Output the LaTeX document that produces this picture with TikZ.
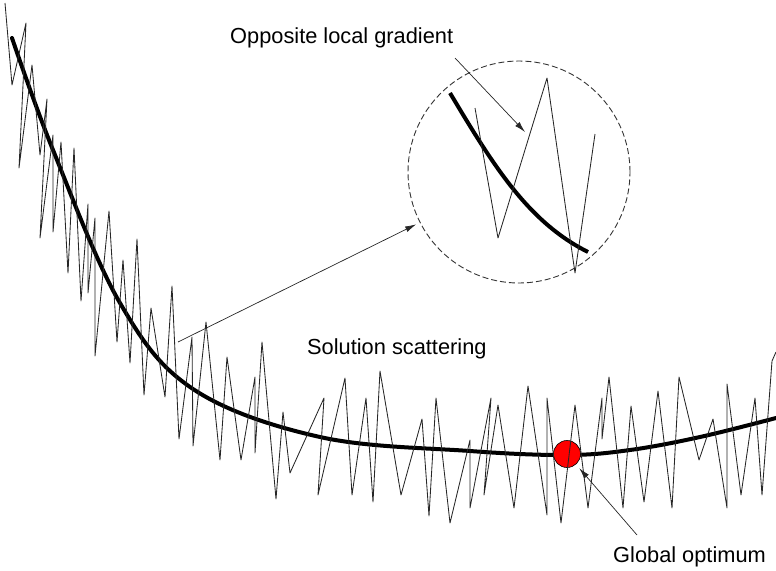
\documentclass[tikz,border=0pt]{standalone}
\usepackage{fontspec}
\setmainfont{Liberation Sans}
\usetikzlibrary{arrows.meta}

\begin{document}
\begin{tikzpicture}[x=1pt,y=-1pt,
  noise/.style={line width=0.85pt,line join=round,black!85},
  trend/.style={line width=4pt,line cap=round},
  pointer/.style={line width=0.7pt,black!85,-{Latex[length=11pt,width=6pt]}},
  tag/.style={font=\fontsize{21.8}{26}\selectfont,inner sep=0pt,anchor=base west}]

\useasboundingbox (0,0) rectangle (776,570);

\draw[trend] plot[smooth,tension=0.6] coordinates {(12,38) (53,150) (120,303)
  (193,389) (320,437) (470,451) (567,455) (630,450) (700,437) (776,418)};

\node[circle,fill=red,draw=black,line width=0.6pt,minimum size=27pt,inner sep=0pt]
  (optimum) at (567,454) {};

\draw[noise] plot coordinates {(5,3) (12,85) (26,23) (19,168) (32,65) (40,155)
  (47,99) (40,238) (53,135) (53,232) (61,142) (68,273) (74,148) (81,301)
  (88,204) (88,293) (95,218) (95,356) (109,211) (117,342) (123,260) (130,363)
  (137,239) (144,395) (151,308) (165,397) (172,286) (179,439) (192,337)
  (193,446) (206,322) (220,460) (227,357) (241,460) (255,377) (255,453)
  (262,342) (276,499) (283,412) (290,473) (324,398) (318,495) (345,378)
  (352,495) (366,398) (373,502) (380,371) (401,495) (422,419) (429,516)
  (436,398) (450,523) (470,440) (470,508) (491,398) (484,495) (498,405)
  (514,508) (528,386) (547,515) (547,398) (561,523) (575,405) (588,508)
  (602,398) (602,439) (609,377) (623,508) (631,406) (644,502) (658,391)
  (672,508) (679,377) (699,460) (713,419) (727,508) (727,384) (741,495)
  (755,398) (762,495) (772,361) (776,352)};

\node[circle,draw=black!80,dashed,dash pattern=on 6pt off 3pt,line width=0.9pt,
  minimum size=222pt,inner sep=0pt] (zoomview) at (519,172) {};
\draw[trend,line cap=butt] (450,93) .. controls (493,165) and (528,222) .. (588,252);
\draw[noise] plot coordinates {(475,108) (498,238) (547,78) (575,273) (595,134)};

\node[tag] (gradlabel) at (230,43) {Opposite local gradient};
\node[tag] (scatlabel) at (307,354) {Solution scattering};
\node[tag] (optlabel) at (613,562) {Global optimum};

\coordinate (gradstart) at (455,58);
\coordinate (gradtip) at (525,132);
\coordinate (scatstart) at (178,342);
\coordinate (optstart) at (637,535);

\draw[pointer] (gradstart) -- (gradtip);
\draw[pointer,shorten >=4pt] (scatstart) -- (zoomview.207);
\draw[pointer,shorten >=5pt] (optstart) -- (optimum);

\end{tikzpicture}
\end{document}
